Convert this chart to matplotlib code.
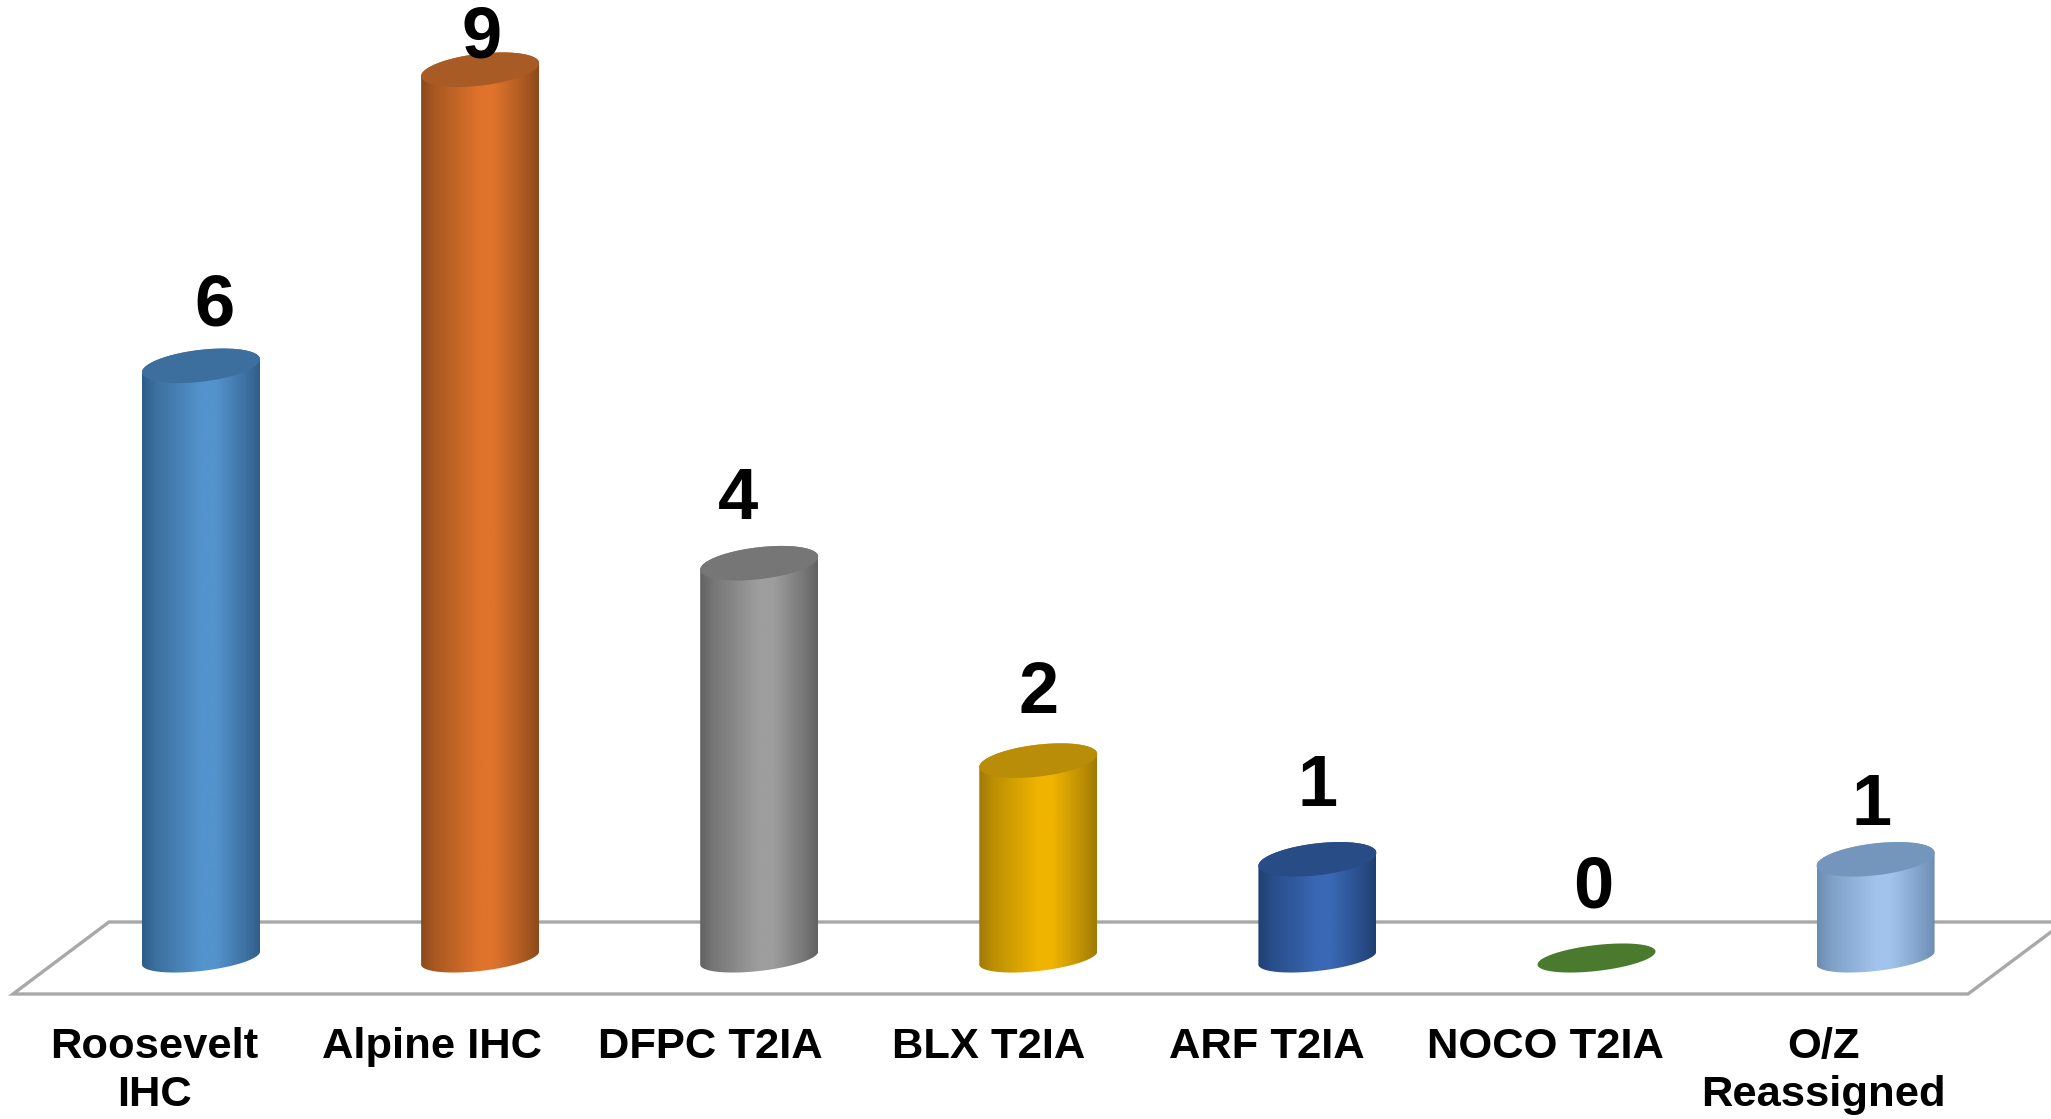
import numpy as np
import matplotlib
matplotlib.use("Agg")
import matplotlib.pyplot as plt
from matplotlib.patches import Polygon
from matplotlib.colors import to_rgb

categories = ["Roosevelt\nIHC", "Alpine IHC", "DFPC T2IA", "BLX T2IA", "ARF T2IA", "NOCO T2IA", "O/Z\nReassigned"]
values = [6, 9, 4, 2, 1, 0, 1]

edge_colors = ["#2f5d88", "#8c4a1b", "#626262", "#a07a05", "#1f3f72", "#4a7a2e", "#6c8cb2"]
mid_colors = ["#5493cc", "#e0732c", "#9e9e9e", "#f0b400", "#3a68b4", "#4a7a2e", "#a2c4ec"]
cap_colors = ["#3c6e9e", "#a85b24", "#767676", "#b98d08", "#284c86", "#4a7a2e", "#7596bc"]

# moved by hand in the original, so each one sits differently over its bar (pixels)
value_dx = [13, 1, -21, 0, 0, -3, -4]
value_dy = [59, 31, 63, 67, 72, 70, 53]

W, H = 2051, 1119
X0, DX = 201.0, 279.1   # pixel of first bar, pixels per category
Y0, DY = 958.0, 98.7    # pixel of value 0, pixels per unit
LABEL_X0, LABEL_DX = 154.0, 278.2

fig = plt.figure(figsize=(W / 100, H / 100), dpi=100)
ax = fig.add_axes([0, 0, 1, 1])
xlim = (-X0 / DX, (W - X0) / DX)
ylim = ((Y0 - H) / DY, Y0 / DY)
ax.axis("off")


def px(x, y):
    return (x - X0) / DX, (Y0 - y) / DY


# floor
floor = [(2051, 922), (109, 922), (13, 994), (1968, 994), (2051, 932)]
fx, fy = zip(*[px(x, y) for x, y in floor])
ax.plot(fx, fy, color="#a8a8a8", lw=2.4, solid_joinstyle="miter", zorder=1)

# half width / half heights / tilt of the cylinder ends, in data units
a = 59 / DX
b_top = 16 / DY
b_base = 13 / DY
tilt = 6.5 / DY


def end_curve(i, v, t, b):
    return i + a * np.cos(t), v + b * np.sin(t) + tilt * np.cos(t)


for i, v in enumerate(values):
    t_low = np.linspace(np.pi, 2 * np.pi, 80)
    t_up = np.linspace(0, np.pi, 80)
    xb, yb = end_curve(i, 0, t_low, b_base)
    xt, yt = end_curve(i, v, t_up, b_top)
    outline = np.column_stack([np.r_[xb, xt], np.r_[yb, yt]])

    if v > 0:
        # body: left-right shading clipped to the cylinder outline
        e, m = np.array(to_rgb(edge_colors[i])), np.array(to_rgb(mid_colors[i]))
        s = np.linspace(0, 1, 256)
        k = np.interp(s, [0, 0.12, 0.5, 0.62, 0.88, 1], [0, 0.35, 1, 1, 0.35, 0])
        grad = (e + (m - e) * k[:, None])[None, :, :]
        im = ax.imshow(grad, extent=(i - a, i + a, -b_base - tilt, v + b_top + tilt), aspect="auto",
                       interpolation="bilinear", zorder=2)
        clip = Polygon(outline, closed=True, transform=ax.transData)
        im.set_clip_path(clip)

    b_cap = b_top if v > 0 else b_base
    xc, yc = end_curve(i, v, np.linspace(0, 2 * np.pi, 160), b_cap)
    ax.fill(xc, yc, color=cap_colors[i], lw=0, zorder=3)

    # number above the bar
    nx, ny = i + value_dx[i] / DX, v + value_dy[i] / DY
    ax.text(nx, ny, str(v), ha="center", va="center", fontsize=52, fontweight="bold",
            family="Liberation Sans", color="black", zorder=4)

    # category label
    lx, ly = px(LABEL_X0 + LABEL_DX * i, 1027)
    ax.text(lx, ly, categories[i], ha="center", va="top", fontsize=31.3, fontweight="bold",
            family="Liberation Sans", color="black", linespacing=1.27, zorder=4)

ax.set_xlim(xlim)
ax.set_ylim(ylim)
fig.savefig("out.png", dpi=100, facecolor="white")
